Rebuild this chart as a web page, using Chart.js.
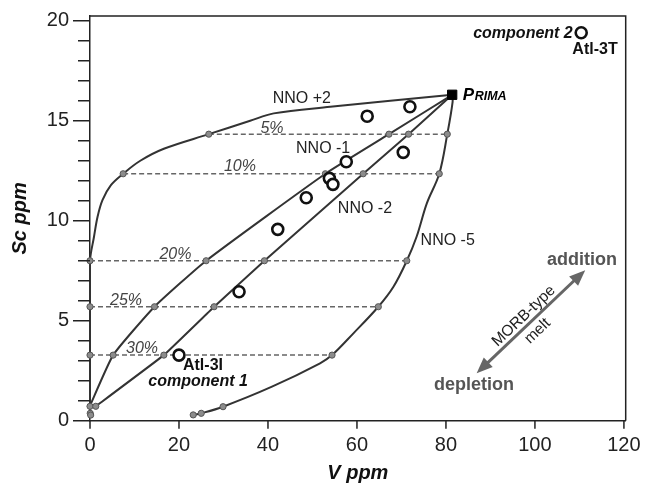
<!DOCTYPE html>
<html><head><meta charset="utf-8">
<script src="https://cdn.jsdelivr.net/npm/chart.js@4.4.1/dist/chart.umd.min.js"></script>
<style>html,body{margin:0;padding:0;background:#fff;}</style>
</head><body>
<canvas id="c" width="646" height="485"></canvas>
<script>
// ---------- data (V ppm, Sc ppm) ----------
const xTicks = [0, 20, 40, 60, 80, 100, 120];
const yTicks = [0,1,2,3,4,5,6,7,8,9,10,11,12,13,14,15,16,17,18,19,20];
const yLabelStep = 5;
const xRange = [0, 120.4];
const yRange = [0, 20.24];

const prima = [[81.4, 16.3]];

const nnoP2Curve = [[0.1,0.3],[0,0.75],[0,3.28],[0,5.7],[0,8.0],[0.9,9.2],[1.7,10.2],[2.8,11.03],[4.7,11.78],[7.45,12.35],[11.3,13.0],[16.6,13.6],[26.7,14.33],[36,15.0],[41.3,15.37],[54,15.7],[67.5,16.0],[81.4,16.3]];
const nnoM1Curve = [[0,0.75],[5.2,3.28],[14.5,5.7],[26.1,8.0],[52.9,12.35],[67.2,14.33],[81.4,16.3]];
const nnoM2Curve = [[1.3,0.72],[16.6,3.28],[27.9,5.7],[39.2,8.0],[61.4,12.35],[71.6,14.33],[81.4,16.3]];
const nnoM5Curve = [[23.2,0.29],[25,0.37],[29.9,0.7],[40.9,1.7],[51.7,2.87],[54.4,3.28],[59.2,4.37],[64.8,5.7],[68.2,6.7],[71.2,8.0],[73.4,9.2],[75.7,10.87],[78.5,12.35],[80.3,14.33],[81.5,15.95],[81.4,16.3]];

const meltDots = [
  [0,3.28],[0,5.7],[0,8.0],[7.45,12.35],[26.7,14.33],
  [5.2,3.28],[14.5,5.7],[26.1,8.0],[52.9,12.35],[67.2,14.33],
  [16.6,3.28],[27.9,5.7],[39.2,8.0],[61.4,12.35],[71.6,14.33],
  [23.2,0.29],[25,0.37],[29.9,0.7],[54.4,3.28],[64.8,5.7],[71.2,8.0],[78.5,12.35],[80.3,14.33],
  [0,0.72],[1.3,0.72],[0.05,0.37],[0.15,0.28]
];

const meltPct = ['5%','10%','20%','25%','30%'];
const meltSc = [14.33, 12.35, 8.0, 5.7, 3.28];
const meltVStart = [26.7, 7.45, 0, 0, 0];
const meltVEnd = [80.3, 78.5, 71.2, 64.8, 54.4];

const samples = [[62.3,15.23],[71.9,15.7],[57.6,12.95],[70.4,13.42],[53.8,12.12],[54.6,11.82],[48.6,11.15],[42.2,9.57],[33.5,6.45],[20.0,3.28],[110.4,19.4]];

// ---------- annotations (data coordinates) ----------
const FONT = '"Liberation Sans", Arial, Helvetica, sans-serif';
const notes = [
  {t:'NNO +2', at:[47.6,16.13], font:'16px', color:'#222'},
  {t:'NNO -1', at:[52.4,13.63], font:'16px', color:'#222'},
  {t:'NNO -2', at:[61.8,10.63], font:'16px', color:'#222'},
  {t:'NNO -5', at:[80.4,9.03], font:'16px', color:'#222'},
  {t:'5%', at:[40.9,14.63], font:'italic 16px', color:'#444'},
  {t:'10%', at:[33.7,12.73], font:'italic 16px', color:'#444'},
  {t:'20%', at:[19.2,8.33], font:'italic 16px', color:'#444'},
  {t:'25%', at:[8.1,6.03], font:'italic 16px', color:'#444'},
  {t:'30%', at:[11.7,3.63], font:'italic 16px', color:'#444'},
  {t:'component 2', at:[108.5,19.37], font:'italic bold 16px', color:'#111', align:'right'},
  {t:'Atl-3T', at:[113.5,18.58], font:'bold 16px', color:'#111'},
  {t:'Atl-3I', at:[20.9,2.78], font:'bold 16px', color:'#111', align:'left'},
  {t:'component 1', at:[24.3,1.95], font:'italic bold 16px', color:'#111'},
  {t:'addition', at:[110.6,8.03], font:'bold 18px', color:'#555'},
  {t:'depletion', at:[86.3,1.78], font:'bold 18px', color:'#555'}
];
const arrowFrom = [86.9, 2.37], arrowTo = [111.3, 7.53];
const arrowNotes = [{t:'MORB-type', at:[97.5,5.23]}, {t:'melt', at:[100.6,4.48]}];
const primaLabelAt = [83.8, 16.33];

const pts = a => a.map(p => ({x:p[0], y:p[1]}));

const datasets = [];
datasets.push({data: pts(prima), pointStyle:'rect', pointRadius:6.6, borderWidth:1, borderColor:'#000', backgroundColor:'#000', order:0});
datasets.push({data: pts(samples), pointStyle:'circle', pointRadius:5.5, borderWidth:2.6, borderColor:'#111', backgroundColor:'#fff', order:1});
datasets.push({data: pts(meltDots), pointStyle:'circle', pointRadius:3.1, borderWidth:1, borderColor:'#555', backgroundColor:'#8c8c8c', order:2});
[[nnoP2Curve,0.35],[nnoM1Curve,0.15],[nnoM2Curve,0.05],[nnoM5Curve,0.35]].forEach(([c,t]) => {
  datasets.push({data: pts(c), showLine:true, tension:t, pointRadius:0, borderColor:'#333', borderWidth:2, order:3});
});
meltSc.forEach((s,i) => {
  datasets.push({data: pts([[meltVStart[i], s],[meltVEnd[i], s]]), showLine:true, pointRadius:0, borderColor:'#666', borderWidth:1.5, borderDash:[5,3], order:4});
});
datasets.forEach(d => { d.clip = false; d.pointHoverRadius = d.pointRadius; });

const overlay = {
  id:'overlay',
  afterDraw(chart){
    const {ctx, chartArea:a} = chart, X = chart.scales.x, Y = chart.scales.y;
    ctx.save(); ctx.strokeStyle='#222'; ctx.lineWidth=1.5; ctx.setLineDash([]);
    ctx.beginPath();
    yTicks.forEach(v => {
      const y = Y.getPixelForValue(v);
      const len = (v % yLabelStep === 0) ? 17 : 12;
      ctx.moveTo(a.left - len, y); ctx.lineTo(a.left, y);
    });
    xTicks.forEach(v => {
      const x = X.getPixelForValue(v);
      ctx.moveTo(x, a.bottom); ctx.lineTo(x, a.bottom + 8);
    });
    ctx.stroke();
    ctx.restore();
  },
  beforeDatasetsDraw(chart){
    const {ctx, chartArea:a} = chart;
    ctx.save(); ctx.strokeStyle='#222'; ctx.lineWidth=1.5;
    ctx.beginPath(); ctx.moveTo(a.left, a.top); ctx.lineTo(a.right, a.top); ctx.lineTo(a.right, a.bottom); ctx.stroke();
    ctx.restore();
  },
  afterDatasetsDraw(chart){
    const {ctx} = chart, X = chart.scales.x, Y = chart.scales.y;
    const px = v => X.getPixelForValue(v), py = v => Y.getPixelForValue(v);
    ctx.save();
    ctx.textBaseline = 'middle';
    notes.forEach(n => {
      ctx.font = n.font + ' ' + FONT; ctx.fillStyle = n.color; ctx.textAlign = n.align || 'center';
      ctx.fillText(n.t, px(n.at[0]), py(n.at[1]));
    });
    ctx.textAlign = 'left'; ctx.fillStyle = '#000';
    ctx.font = 'italic bold 17px ' + FONT;
    const x0 = px(primaLabelAt[0]), y0 = py(primaLabelAt[1]);
    ctx.textBaseline = 'alphabetic';
    ctx.fillText('P', x0, y0 + 6);
    const w = ctx.measureText('P').width;
    ctx.font = 'italic bold 12.5px ' + FONT;
    ctx.fillText('RIMA', x0 + w + 0.5, y0 + 6);
    const ax0 = px(arrowFrom[0]), ay0 = py(arrowFrom[1]), ax1 = px(arrowTo[0]), ay1 = py(arrowTo[1]);
    const ang = Math.atan2(ay1 - ay0, ax1 - ax0), L = 16, H = 6.5;
    const c = Math.cos(ang), s = Math.sin(ang);
    ctx.strokeStyle = '#666'; ctx.fillStyle = '#666'; ctx.lineWidth = 3;
    ctx.beginPath(); ctx.moveTo(ax0 + c*(L-2), ay0 + s*(L-2)); ctx.lineTo(ax1 - c*(L-2), ay1 - s*(L-2)); ctx.stroke();
    const head = (tx, ty, dir) => {
      const bx = tx - dir*c*L, by = ty - dir*s*L;
      ctx.beginPath(); ctx.moveTo(tx, ty);
      ctx.lineTo(bx - s*H, by + c*H); ctx.lineTo(bx + s*H, by - c*H); ctx.closePath(); ctx.fill();
    };
    head(ax1, ay1, 1); head(ax0, ay0, -1);
    ctx.fillStyle = '#222'; ctx.font = '15.5px ' + FONT; ctx.textAlign = 'center'; ctx.textBaseline = 'middle';
    arrowNotes.forEach(n => {
      ctx.save(); ctx.translate(px(n.at[0]), py(n.at[1])); ctx.rotate(ang); ctx.fillText(n.t, 0, 0); ctx.restore();
    });
    ctx.restore();
  }
};

new Chart(document.getElementById('c'), {
  type:'scatter',
  data:{datasets},
  plugins:[overlay],
  options:{
    responsive:false, animation:false, events:[],
    layout:{padding:{top:15.7, right:20.3, left:0, bottom:0}},
    plugins:{legend:{display:false}, tooltip:{enabled:false}},
    scales:{
      x:{type:'linear', min:xRange[0], max:xRange[1],
        afterBuildTicks: s => { s.ticks = xTicks.map(v => ({value:v})); },
        afterFit: s => { s.height = 64.3; },
        grid:{drawOnChartArea:false, drawTicks:true, tickLength:8, tickColor:'rgba(0,0,0,0)'},
        border:{display:true, color:'#222', width:1.5},
        ticks:{autoSkip:false, maxRotation:0, padding:5, color:'#222', font:{family:FONT, size:20}},
        title:{display:true, text:'V ppm', color:'#111', padding:{top:0, bottom:0}, font:{family:FONT, size:20, weight:'bold', style:'italic'}}
      },
      y:{type:'linear', min:yRange[0], max:yRange[1],
        afterBuildTicks: s => { s.ticks = yTicks.map(v => ({value:v})); },
        afterFit: s => { s.width = 90; },
        grid:{drawOnChartArea:false, drawTicks:true, tickLength:17, tickColor:'rgba(0,0,0,0)'},
        border:{display:true, color:'#222', width:1.5},
        ticks:{autoSkip:false, padding:4, color:'#222', font:{family:FONT, size:20},
          callback: v => (v % yLabelStep === 0 ? String(v) : '')},
        title:{display:true, text:'Sc ppm', color:'#111', padding:{top:8, bottom:0}, font:{family:FONT, size:20, weight:'bold', style:'italic'}}
      }
    }
  }
});
</script>
</body></html>
